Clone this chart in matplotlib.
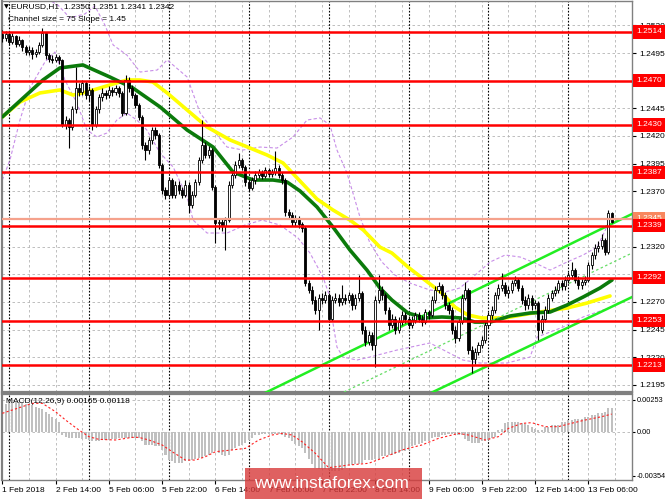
import matplotlib
matplotlib.use("Agg")
import matplotlib.pyplot as plt
import matplotlib.transforms as mtransforms
from matplotlib.patches import Rectangle
import numpy as np

plt.rcParams["font.family"] = ["Liberation Sans", "DejaVu Sans"]

# EURUSD H1 bars, 1 Feb 22:00 .. 13 Feb 13:00
first_open = 1.2512
closes = [
    1.2509, 1.2512, 1.2505, 1.2510, 1.2503, 1.2507, 1.2500, 1.2496, 1.2498, 1.2494,
    1.2496, 1.2502, 1.2513, 1.2493, 1.2490, 1.2489, 1.2491, 1.2489, 1.2430, 1.2434,
    1.2428, 1.2444, 1.2463, 1.2460, 1.2468, 1.2457, 1.2462, 1.2430, 1.2444, 1.2455,
    1.2459, 1.2457, 1.2462, 1.2460, 1.2463, 1.2459, 1.2441, 1.2471, 1.2463, 1.2457,
    1.2448, 1.2437, 1.2412, 1.2407, 1.2416, 1.2425, 1.2421, 1.2394, 1.2371, 1.2367,
    1.2380, 1.2367, 1.2376, 1.2371, 1.2367, 1.2376, 1.2358, 1.2367, 1.2378, 1.2398,
    1.2412, 1.2403, 1.2407, 1.2374, 1.2341, 1.2342, 1.2339, 1.2344, 1.2376, 1.2385,
    1.2394, 1.2398, 1.2392, 1.2378, 1.2373, 1.2380, 1.2385, 1.2387, 1.2384, 1.2389,
    1.2386, 1.2387, 1.2391, 1.2385, 1.2380, 1.2351, 1.2349, 1.2342, 1.2346, 1.2340,
    1.2337, 1.2287, 1.2281, 1.2272, 1.2263, 1.2274, 1.2272, 1.2276, 1.2255, 1.2272,
    1.2274, 1.2270, 1.2274, 1.2272, 1.2276, 1.2267, 1.2274, 1.2278, 1.2245, 1.2234,
    1.2240, 1.2231, 1.2272, 1.2281, 1.2276, 1.2263, 1.2249, 1.2255, 1.2245, 1.2252,
    1.2258, 1.2255, 1.2249, 1.2254, 1.2258, 1.2255, 1.2252, 1.2261, 1.2258, 1.2272,
    1.2281, 1.2284, 1.2276, 1.2267, 1.2263, 1.2245, 1.2237, 1.2252, 1.2274, 1.2281,
    1.2227, 1.2218, 1.2225, 1.2231, 1.2236, 1.2249, 1.2258, 1.2263, 1.2276, 1.2283,
    1.2285, 1.2278, 1.2281, 1.2287, 1.2290, 1.2283, 1.2272, 1.2267, 1.2274, 1.2267,
    1.2269, 1.2245, 1.2255, 1.2263, 1.2274, 1.2278, 1.2281, 1.2287, 1.2284, 1.2290,
    1.2294, 1.2299, 1.2290, 1.2285, 1.2288, 1.2290, 1.2303, 1.2312, 1.2319, 1.2321,
    1.2326, 1.2315, 1.2350, 1.2342]
highs = [
    1.2516, 1.2515, 1.2514, 1.2513, 1.2511, 1.2510, 1.2508, 1.2502, 1.2501, 1.2500,
    1.2499, 1.2505, 1.2518, 1.2514, 1.2495, 1.2493, 1.2494, 1.2493, 1.2490, 1.2438,
    1.2436, 1.2447, 1.2482, 1.2468, 1.2471, 1.2470, 1.2465, 1.2463, 1.2447, 1.2458,
    1.2463, 1.2462, 1.2465, 1.2464, 1.2466, 1.2465, 1.2461, 1.2475, 1.2473, 1.2466,
    1.2459, 1.2450, 1.2439, 1.2415, 1.2419, 1.2428, 1.2428, 1.2423, 1.2396, 1.2374,
    1.2383, 1.2382, 1.2379, 1.2379, 1.2374, 1.2380, 1.2378, 1.2370, 1.2381, 1.2401,
    1.2434, 1.2415, 1.2411, 1.2409, 1.2376, 1.2346, 1.2345, 1.2347, 1.2379, 1.2388,
    1.2397, 1.2405, 1.2400, 1.2394, 1.2381, 1.2383, 1.2388, 1.2390, 1.2389, 1.2392,
    1.2391, 1.2390, 1.2406, 1.2394, 1.2387, 1.2382, 1.2354, 1.2351, 1.2349, 1.2348,
    1.2342, 1.2339, 1.2290, 1.2284, 1.2275, 1.2277, 1.2278, 1.2280, 1.2278, 1.2275,
    1.2278, 1.2277, 1.2285, 1.2277, 1.2279, 1.2278, 1.2277, 1.2294, 1.2280, 1.2248,
    1.2244, 1.2243, 1.2275, 1.2294, 1.2284, 1.2278, 1.2265, 1.2259, 1.2257, 1.2256,
    1.2262, 1.2261, 1.2257, 1.2257, 1.2261, 1.2261, 1.2258, 1.2264, 1.2263, 1.2275,
    1.2284, 1.2288, 1.2286, 1.2279, 1.2270, 1.2265, 1.2248, 1.2255, 1.2277, 1.2288,
    1.2283, 1.2230, 1.2228, 1.2234, 1.2239, 1.2252, 1.2261, 1.2266, 1.2279, 1.2286,
    1.2296, 1.2288, 1.2284, 1.2290, 1.2293, 1.2292, 1.2285, 1.2275, 1.2277, 1.2276,
    1.2272, 1.2271, 1.2258, 1.2266, 1.2277, 1.2281, 1.2284, 1.2290, 1.2290, 1.2293,
    1.2297, 1.2306, 1.2301, 1.2293, 1.2291, 1.2293, 1.2306, 1.2315, 1.2322, 1.2325,
    1.2331, 1.2328, 1.2353, 1.2351]
lows = [
    1.2505, 1.2506, 1.2502, 1.2503, 1.2500, 1.2501, 1.2497, 1.2493, 1.2493, 1.2490,
    1.2491, 1.2494, 1.2500, 1.2490, 1.2487, 1.2486, 1.2487, 1.2485, 1.2428, 1.2426,
    1.2409, 1.2425, 1.2441, 1.2456, 1.2457, 1.2453, 1.2452, 1.2425, 1.2428, 1.2441,
    1.2452, 1.2453, 1.2454, 1.2456, 1.2457, 1.2455, 1.2438, 1.2439, 1.2460, 1.2454,
    1.2445, 1.2434, 1.2408, 1.2398, 1.2404, 1.2413, 1.2417, 1.2391, 1.2368, 1.2363,
    1.2365, 1.2364, 1.2364, 1.2368, 1.2364, 1.2365, 1.2350, 1.2355, 1.2365, 1.2376,
    1.2396, 1.2400, 1.2400, 1.2371, 1.2323, 1.2336, 1.2334, 1.2317, 1.2342, 1.2373,
    1.2382, 1.2391, 1.2389, 1.2375, 1.2370, 1.2371, 1.2377, 1.2382, 1.2381, 1.2382,
    1.2383, 1.2383, 1.2385, 1.2382, 1.2377, 1.2348, 1.2345, 1.2339, 1.2339, 1.2337,
    1.2333, 1.2284, 1.2278, 1.2268, 1.2259, 1.2245, 1.2268, 1.2269, 1.2252, 1.2253,
    1.2269, 1.2266, 1.2267, 1.2268, 1.2269, 1.2263, 1.2264, 1.2271, 1.2241, 1.2230,
    1.2231, 1.2227, 1.2211, 1.2269, 1.2272, 1.2259, 1.2245, 1.2246, 1.2241, 1.2242,
    1.2249, 1.2251, 1.2246, 1.2246, 1.2251, 1.2252, 1.2248, 1.2250, 1.2255, 1.2256,
    1.2269, 1.2278, 1.2273, 1.2264, 1.2259, 1.2241, 1.2233, 1.2235, 1.2250, 1.2272,
    1.2223, 1.2206, 1.2214, 1.2222, 1.2228, 1.2233, 1.2246, 1.2255, 1.2260, 1.2273,
    1.2280, 1.2275, 1.2274, 1.2278, 1.2284, 1.2280, 1.2268, 1.2263, 1.2264, 1.2263,
    1.2264, 1.2236, 1.2242, 1.2252, 1.2260, 1.2271, 1.2275, 1.2278, 1.2281, 1.2281,
    1.2287, 1.2291, 1.2287, 1.2282, 1.2282, 1.2285, 1.2288, 1.2300, 1.2309, 1.2315,
    1.2318, 1.2312, 1.2313, 1.2341]

macd_hist = [
    0.0019, 0.0022, 0.0024, 0.0024, 0.0024, 0.0024, 0.0023, 0.0022, 0.0022, 0.0021,
    0.0020, 0.0019, 0.0018, 0.0016, 0.0014, 0.0012, 0.0010, 0.0008, -0.0003, -0.0004,
    -0.0005, -0.0005, -0.0005, -0.0005, -0.0006, -0.0006, -0.0007, -0.0008, -0.0008, -0.0008,
    -0.0007, -0.0007, -0.0007, -0.0006, -0.0006, -0.0005, -0.0005, -0.0005, -0.0005, -0.0005,
    -0.0005, -0.0005, -0.0008, -0.0011, -0.0011, -0.0011, -0.0012, -0.0012, -0.0015, -0.0019,
    -0.0023, -0.0024, -0.0025, -0.0025, -0.0025, -0.0024, -0.0024, -0.0023, -0.0022, -0.0021,
    -0.0021, -0.0020, -0.0019, -0.0017, -0.0016, -0.0017, -0.0019, -0.0020, -0.0019, -0.0015,
    -0.0013, -0.0012, -0.0011, -0.0009, -0.0007, -0.0005, -0.0003, -0.0003, -0.0002, -0.0002,
    -0.0002, -0.0002, -0.0002, -0.0002, -0.0003, -0.0004, -0.0005, -0.0008, -0.0010, -0.0012,
    -0.0013, -0.0017, -0.0022, -0.0026, -0.0029, -0.0030, -0.0030, -0.0030, -0.0031, -0.0032,
    -0.0032, -0.0032, -0.0031, -0.0029, -0.0027, -0.0027, -0.0026, -0.0026, -0.0025, -0.0023,
    -0.0023, -0.0023, -0.0022, -0.0022, -0.0020, -0.0020, -0.0019, -0.0019, -0.0018, -0.0017,
    -0.0016, -0.0016, -0.0015, -0.0012, -0.0011, -0.0010, -0.0009, -0.0008, -0.0008, -0.0005,
    -0.0004, -0.0004, -0.0003, -0.0003, -0.0002, -0.0002, -0.0002, -0.0003, -0.0003, -0.0006,
    -0.0008, -0.0009, -0.0009, -0.0009, -0.0008, -0.0008, -0.0007, -0.0005, -0.0004, 0.0001,
    0.0002, 0.0007, 0.0008, 0.0008, 0.0008, 0.0008, 0.0007, 0.0006, 0.0005, 0.0004,
    0.0002, 0.0001, 0.0001, 0.0004, 0.0004, 0.0005, 0.0005, 0.0005, 0.0008, 0.0008,
    0.0009, 0.0009, 0.0010, 0.0010, 0.0010, 0.0012, 0.0012, 0.0013, 0.0013, 0.0015,
    0.0015, 0.0016, 0.0019, 0.0019]
signal_bars = [0, 9, 12, 16, 19, 23, 26, 29, 34, 39, 41, 44, 48, 51, 55, 58, 61, 64,
               69, 73, 77, 81, 84, 87, 90, 94, 98, 104, 110, 114, 120, 126, 131, 137,
               140, 145, 149, 152, 156, 159, 163, 167, 170, 175, 180, 183]
signal_vals = [0.00146, 0.00226, 0.00226, 0.00159, 0.00092, 0.00012, -0.00041, -0.00063,
               -0.00068, -0.00047, -0.00047, -0.00068, -0.00108, -0.00162, -0.00229,
               -0.00229, -0.00202, -0.00162, -0.00148, -0.00135, -0.00068, -0.00028,
               -0.00015, -0.00028, -0.00082, -0.00175, -0.00290, -0.00269, -0.00255,
               -0.00215, -0.00148, -0.00108, -0.00055, -0.00015, -0.00028, -0.00068,
               -0.00041, 0.00025, 0.00065, 0.00071, 0.00039, 0.00039, 0.00060, 0.00092,
               0.00119, 0.00140]

# moving averages (green and yellow)
ma_green_bars = [0, 12.2, 17.3, 24.2, 32.3, 39.2, 47.4, 55.5, 63.3, 69.3, 75.3, 81.3, 85.5,
                 89.4, 94.5, 99.3, 104.4, 109.5, 113.4, 117, 121.8, 126.9, 132, 138, 141.9,
                 146.5, 152.5, 158.5, 164.5, 169.6, 174.4, 179.5, 183.1]
ma_green = [1.24372, 1.24706, 1.24815, 1.24842, 1.24733, 1.24634, 1.24462, 1.24254, 1.24100,
            1.23874, 1.23802, 1.23802, 1.23784, 1.23703, 1.23558, 1.23377, 1.23169, 1.22988,
            1.22826, 1.22717, 1.22600, 1.22555, 1.22564, 1.22555, 1.22518, 1.22518, 1.22573,
            1.22600, 1.22609, 1.22672, 1.22744, 1.22826, 1.22898]
ma_yellow_bars = [0, 5.3, 11.3, 17.3, 21.2, 25.4, 32.3, 37.4, 41.3, 45.2, 49.5, 55.5, 61.5,
                  68.4, 74.4, 79.5, 84.3, 89.4, 94.5, 99.3, 104.4, 108.4, 113.4, 117, 121.8,
                  126.9, 132, 135.9, 139.8, 144, 151, 159.4, 169.6, 175.6, 182.5]
ma_yellow = [1.24372, 1.24507, 1.24589, 1.24616, 1.24570, 1.24598, 1.24661, 1.24706, 1.24706,
             1.24688, 1.24589, 1.24435, 1.24281, 1.24164, 1.24091, 1.24028, 1.23956, 1.23793,
             1.23630, 1.23531, 1.23440, 1.23350, 1.23196, 1.23142, 1.23016, 1.22898, 1.22781,
             1.22654, 1.22582, 1.22555, 1.22555, 1.22600, 1.22645, 1.22690, 1.22754]

# envelope bands (lavender dashed)
band_up_bars = [11.3, 16.7, 20.3, 24.8, 27.8, 30.8, 33.3, 37.4, 41.4, 46.5, 49.5, 55.5, 59.4,
                63.3, 67.5, 72.3, 77.4, 82.5, 87.3, 91.5, 95.4, 98.4, 100.5, 103.5, 105.3,
                107.4, 110.4, 114, 117.9, 122.4, 128.4, 132.9, 137.4, 142, 146.5, 151, 155.5,
                160, 164.5, 169.6, 174.4, 178.6, 180.4, 183.1]
band_up = [1.25474, 1.25384, 1.25267, 1.25303, 1.25375, 1.25203, 1.25022, 1.24932, 1.24778,
           1.24796, 1.24887, 1.24733, 1.24408, 1.24254, 1.24100, 1.24073, 1.24100, 1.24091,
           1.24191, 1.24344, 1.24363, 1.24299, 1.24073, 1.23865, 1.23685, 1.23468, 1.23233,
           1.23061, 1.22943, 1.22871, 1.22808, 1.22790, 1.22826, 1.22943, 1.23061, 1.23124,
           1.23106, 1.23052, 1.22988, 1.23061, 1.23124, 1.23196, 1.23305, 1.23486]
band_dn_bars = [0, 2.3, 5.3, 8.3, 12.8, 15.8, 18.8, 22.4, 25.4, 28.4, 31.4, 34.4, 37.4, 40.4,
                43.4, 47.4, 51.3, 55.5, 57.3, 61.5, 67.5, 72.9, 78, 83.4, 88.8, 92.4, 96.3,
                98.4, 99.3, 100.5, 102.3, 106.5, 110.4, 118.5, 128.4, 138.3, 143.4, 151.6,
                158.5, 160.6, 168.4, 174.4, 180.4, 183.1]
band_dn = [1.23802, 1.23983, 1.24344, 1.24634, 1.24869, 1.24959, 1.24706, 1.24498, 1.24254,
           1.24191, 1.24227, 1.24344, 1.24408, 1.24344, 1.24254, 1.24046, 1.23920, 1.23648,
           1.23440, 1.23323, 1.23323, 1.23395, 1.23440, 1.23395, 1.23278, 1.23142, 1.22925,
           1.22744, 1.22509, 1.22292, 1.22202, 1.22175, 1.22202, 1.22265, 1.22329, 1.22175,
           1.22148, 1.22148, 1.22202, 1.22383, 1.22473, 1.22564, 1.22627, 1.22654]

# regression channel (bar, price) endpoints
chan_upper = ([77, 189.1], [1.2185, 1.23495])
chan_mid = ([102.6, 189.1], [1.21886, 1.23142])
chan_lower = ([129.3, 189.1], [1.21886, 1.22744])

levels = [1.2514, 1.2470, 1.2430, 1.2387, 1.2339, 1.2292, 1.2253, 1.2213]
bid_level = 1.2345
price_ticks = [1.2195, 1.2220, 1.2245, 1.2270, 1.2295, 1.2320, 1.2345, 1.2370,
               1.2395, 1.2420, 1.2445, 1.2470, 1.2495, 1.2520]
hidden_ticks = [1.2295, 1.2345, 1.2470]  # covered by the level boxes
macd_ticks = [0.00253, 0.0, -0.00354]
macd_tick_labels = ["0.00253", "0.00", "-0.00354"]
time_bars = [0, 16, 32, 48, 64, 80, 96, 112, 128, 144, 160, 176]
time_labels = ["1 Feb 2018", "2 Feb 14:00", "5 Feb 06:00", "5 Feb 22:00", "6 Feb 14:00",
               "7 Feb 06:00", "7 Feb 22:00", "8 Feb 14:00", "9 Feb 06:00", "9 Feb 22:00",
               "12 Feb 14:00", "13 Feb 06:00"]
day_starts = [2, 26, 50, 74, 98, 122, 146, 170]

FS = 6
W, H = 665, 499
fig = plt.figure(figsize=(W / 100, H / 100), dpi=100)
ax = fig.add_axes([2 / W, 1 - 392 / H, 630 / W, 391 / H])
ax2 = fig.add_axes([2 / W, 1 - 480 / H, 630 / W, 86 / H], sharex=ax)

ax.set_xlim(-0.09, 189.1)
ax.set_ylim(1.21886, 1.25420)
ax2.set_ylim(-0.00389, 0.00301)

grid_kw = dict(color="#b4b4b4", lw=0.6, ls=(0, (3, 3)), zorder=0)
for b in range(0, 190, 8):
    ax.axvline(b, **grid_kw)
    ax2.axvline(b, **grid_kw)
for p in price_ticks:
    ax.axhline(p, **grid_kw)
for v in macd_ticks[:2]:
    ax2.axhline(v, **grid_kw)
for b in day_starts:
    ax.axvline(b, color="black", lw=0.8, ls=(0, (1.5, 1.5)), zorder=1)
    ax2.axvline(b, color="black", lw=0.8, ls=(0, (1.5, 1.5)), zorder=1)

# indicators
ax.plot(band_up_bars, band_up, color="#c88ee8", lw=0.8, ls=(0, (3, 2)), zorder=2)
ax.plot(band_dn_bars, band_dn, color="#c88ee8", lw=0.8, ls=(0, (3, 2)), zorder=2)
ax.plot(ma_yellow_bars, ma_yellow, color="#ffff00", lw=2.6, zorder=3, solid_capstyle="round")
ax.plot(ma_green_bars, ma_green, color="#0b7a0b", lw=2.6, zorder=3, solid_capstyle="round")
ax.plot(*chan_upper, color="#22ee22", lw=1.8, zorder=3)
ax.plot(*chan_lower, color="#22ee22", lw=1.8, zorder=3)
ax.plot(*chan_mid, color="#66dd66", lw=0.9, ls=(0, (2, 2)), zorder=3)

# candles
idx = np.arange(len(closes))
c = np.array(closes)
o = np.array([first_open] + closes[:-1])
up = c >= o
body_lo = np.minimum(o, c)
body_h = np.maximum(np.abs(c - o), 0.00004)
ax.vlines(idx, lows, highs, color="black", lw=0.8, zorder=4)
ax.bar(idx[up], body_h[up], bottom=body_lo[up], width=0.62, color="white",
       edgecolor="black", lw=0.6, zorder=5)
ax.bar(idx[~up], body_h[~up], bottom=body_lo[~up], width=0.62, color="black",
       edgecolor="black", lw=0.6, zorder=5)

# horizontal levels
ax.axhline(bid_level, color="#f5a28c", lw=1.6, zorder=6)
for lv in levels:
    ax.axhline(lv, color="#ff0000", lw=1.8, zorder=6)

ax.yaxis.tick_right()
ax.set_yticks(price_ticks)
ax.set_yticklabels(["" if p in hidden_ticks else f"{p:.4f}" for p in price_ticks], fontsize=FS)
ax.tick_params(axis="y", length=3, pad=2, colors="black")
ax.tick_params(axis="x", bottom=False, labelbottom=False)

trans = mtransforms.blended_transform_factory(ax.transAxes, ax.transData)
box_kw = dict(transform=trans, color="white", fontsize=FS, va="center", ha="left",
              clip_on=False)
ax.text(1.0063, bid_level, f"{bid_level:.4f}", zorder=9,
        bbox=dict(boxstyle="square,pad=0.38", fc="#f8875e", ec="none"), **box_kw)
for lv in levels:
    ax.text(1.0063, lv, f"{lv:.4f}", zorder=10,
            bbox=dict(boxstyle="square,pad=0.38", fc="#ff0000", ec="none"), **box_kw)

# MACD panel
ax2.bar(idx, macd_hist, width=0.62, color="#c0c0c0", zorder=2)
ax2.plot(signal_bars, signal_vals, color="#ff2020", lw=0.8, ls=(0, (2, 2)), zorder=3)
ax2.yaxis.tick_right()
ax2.set_yticks(macd_ticks)
ax2.set_yticklabels(macd_tick_labels, fontsize=5.3)
ax2.tick_params(axis="y", length=2.5, pad=1)
ax2.set_xticks(time_bars)
ax2.set_xticklabels(time_labels, fontsize=FS, ha="left")
ax2.tick_params(axis="x", length=3, pad=2)

for a in (ax, ax2):
    for s in a.spines.values():
        s.set_color("#808080")
        s.set_linewidth(1.0)
ax.spines["bottom"].set_linewidth(1.6)
ax2.spines["top"].set_linewidth(1.6)
ax.spines["left"].set_linewidth(1.6)
ax2.spines["left"].set_linewidth(1.6)

# header texts
fig.text(4 / W, 1 - 7 / H, "\u25bc", fontsize=4.5, va="center", ha="left",
         family="DejaVu Sans")
fig.text(11 / W, 1 - 7 / H, "EURUSD,H1  1.2350 1.2351 1.2341 1.2342", fontsize=6,
         va="center", ha="left")
fig.text(8 / W, 1 - 19.5 / H, "Channel size = 75 Slope = 1.45", fontsize=6,
         va="center", ha="left")
fig.text(6 / W, 1 - 401.5 / H, "MACD(12,26,9) 0.00165 0.00118", fontsize=6,
         va="center", ha="left")

# watermark
fig.patches.append(Rectangle((245 / W, 0), 177 / W, 31 / H, transform=fig.transFigure,
                             fc="#d83a3a", ec="none", alpha=0.8, zorder=20))
fig.text(331 / W, 1 - 484 / H, "www.instaforex.com", color="white", fontsize=12.5,
         va="center", ha="center", zorder=21)

fig.savefig("out.png", dpi=100)
